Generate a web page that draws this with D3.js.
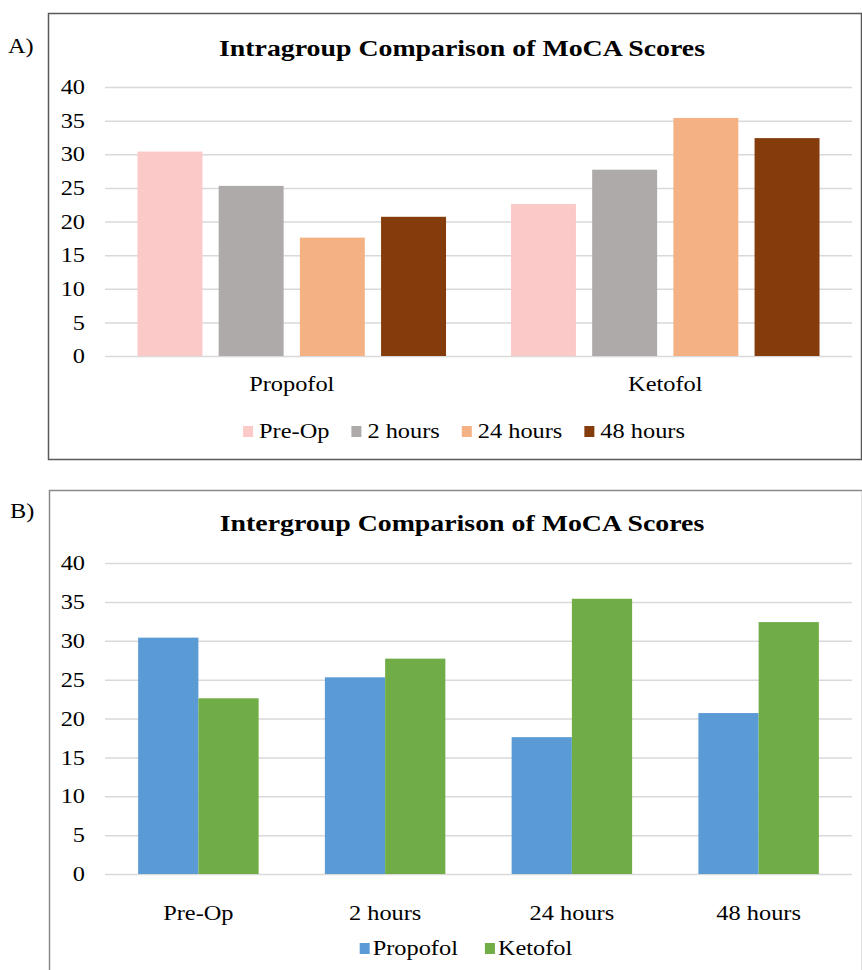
<html>
    <head>
        <script src="https://d3js.org/d3.v7.min.js"></script>
        <style>
        body { margin: 0; background: #fff; }
        text { font-family: "Liberation Serif", "Times New Roman", serif; fill: #000; }
        .gridlines line { stroke: #d9d9d9; stroke-width: 1.5; }
        .gridlines .domain { stroke: none; }
        .axis .domain, .axis line { stroke: none; }
        </style>
    </head>
    <body>
        <svg id="chart" width="862" height="970"></svg>
        <script>
            // data
            const groups = ['Propofol', 'Ketofol'];
            const timepoints = ['Pre-Op', '2 hours', '24 hours', '48 hours'];
            const propofolScores = [30.4, 25.3, 17.6, 20.7];
            const ketofolScores = [22.6, 27.7, 35.4, 32.4];
            const yTicks = [0, 5, 10, 15, 20, 25, 30, 35, 40];

            const timeColors = ['#fcc9c9', '#aeaaaa', '#f4b183', '#843c0c'];
            const groupColors = ['#5b9bd5', '#70ad47'];

            const svg = d3.select('svg#chart');
            const plotLeft = 105, plotRight = 852;
            const sx = 1.16; // the figure's text is a bit wider than normal

            // place a text at (x,y) stretched horizontally
            function label(x, y, str, size, anchor, bold) {
                return svg.append('text')
                    .attr('transform', `translate(${x},${y}) scale(${sx},1)`)
                    .attr('text-anchor', anchor || 'start')
                    .attr('dominant-baseline', 'central')
                    .attr('font-size', size)
                    .attr('font-weight', bold ? 'bold' : 'normal')
                    .text(str);
            }

            // panel frames
            svg.append('rect')
                .attr('x', 48.5).attr('y', 13.5).attr('width', 813).attr('height', 446)
                .attr('fill', 'none').attr('stroke', '#5a5a5a').attr('stroke-width', 1.5);
            svg.append('rect')
                .attr('x', 49.5).attr('y', 490.5).attr('width', 813).attr('height', 500)
                .attr('fill', 'none').attr('stroke', '#8a8a8a').attr('stroke-width', 1.5);

            function drawYAxis(yScale) {
                let grid = d3.axisLeft(yScale).tickValues(yTicks)
                    .tickSize(-(plotRight - plotLeft)).tickFormat('');
                svg.append('g').attr('class', 'gridlines')
                    .attr('transform', `translate(${plotLeft},0)`)
                    .call(grid);

                let leftAxis = d3.axisLeft(yScale).tickValues(yTicks).tickSize(0).tickPadding(0);
                svg.append('g').attr('class', 'axis')
                    .attr('transform', `translate(85,0)`)
                    .call(leftAxis)
                    .selectAll('text')
                    .attr('x', 0)
                    .attr('transform', `scale(${sx},1)`)
                    .attr('font-size', 21)
                    .attr('fill', '#000');
            }

            function drawXAxis(xScale, y) {
                let bottom = d3.axisBottom(xScale).tickSize(0).tickPadding(0);
                svg.append('g').attr('class', 'axis')
                    .attr('transform', `translate(0,${y})`)
                    .call(bottom)
                    .selectAll('text')
                    .attr('y', 0).attr('dy', null)
                    .attr('dominant-baseline', 'central')
                    .attr('transform', `scale(${sx},1)`)
                    .attr('font-size', 21).attr('fill', '#000');
            }

            function drawLegend(names, colors, cx, cy, textGap, itemGap) {
                let lg = svg.append('g');
                let x = 0;
                names.forEach((n, i) => {
                    lg.append('rect').attr('x', x).attr('y', cy - 5)
                        .attr('width', 10).attr('height', 11).attr('fill', colors[i]);
                    let t = lg.append('text')
                        .attr('transform', `translate(${x + textGap},${cy}) scale(${sx},1)`)
                        .attr('dominant-baseline', 'central')
                        .attr('font-size', 21).text(n);
                    x += textGap + t.node().getComputedTextLength() * sx + itemGap;
                });
                let w = x - itemGap;
                lg.attr('transform', `translate(${cx - w / 2},0)`);
            }

            // ---------- A) intragroup ----------
            label(8, 46, 'A)', 21);
            label(462, 48, 'Intragroup Comparison of MoCA Scores', 24, 'middle', true);

            const yA = d3.scaleLinear().domain([0, 40]).range([356, 87]);
            drawYAxis(yA);

            const xA = d3.scaleBand().domain(groups).range([plotLeft, plotRight]);
            const xAinner = d3.scaleBand().domain(timepoints).range([0, xA.bandwidth()])
                .paddingInner(0.2).paddingOuter(0.4);
            const colorA = d3.scaleOrdinal().domain(timepoints).range(timeColors);

            const scoresA = [propofolScores, ketofolScores];
            groups.forEach((g, gi) => {
                let cg = svg.append('g').attr('transform', `translate(${xA(g)},0)`);
                timepoints.forEach((t, ti) => {
                    let v = scoresA[gi][ti];
                    cg.append('rect')
                        .attr('x', xAinner(t))
                        .attr('y', yA(v))
                        .attr('width', xAinner.bandwidth())
                        .attr('height', yA(0) - yA(v))
                        .attr('fill', colorA(t));
                });
            });

            drawXAxis(xA, 384);
            drawLegend(timepoints, timeColors, 464, 431, 16, 22);

            // ---------- B) intergroup ----------
            label(10, 511, 'B)', 21);
            label(462, 523, 'Intergroup Comparison of MoCA Scores', 24, 'middle', true);

            const yB = d3.scaleLinear().domain([0, 40]).range([874, 563]);
            drawYAxis(yB);

            const xB = d3.scaleBand().domain(timepoints).range([plotLeft, plotRight]);
            const xBinner = d3.scaleBand().domain(groups).range([0, xB.bandwidth()])
                .paddingInner(0).paddingOuter(0.55);
            const colorB = d3.scaleOrdinal().domain(groups).range(groupColors);

            timepoints.forEach((t, ti) => {
                let cg = svg.append('g').attr('transform', `translate(${xB(t)},0)`);
                groups.forEach((g, gi) => {
                    let v = [propofolScores, ketofolScores][gi][ti];
                    cg.append('rect')
                        .attr('x', xBinner(g))
                        .attr('y', yB(v))
                        .attr('width', xBinner.bandwidth())
                        .attr('height', yB(0) - yB(v))
                        .attr('fill', colorB(g));
                });
            });

            drawXAxis(xB, 913);
            drawLegend(groups, groupColors, 466, 948, 13, 27);
        </script>
    </body>
</html>
